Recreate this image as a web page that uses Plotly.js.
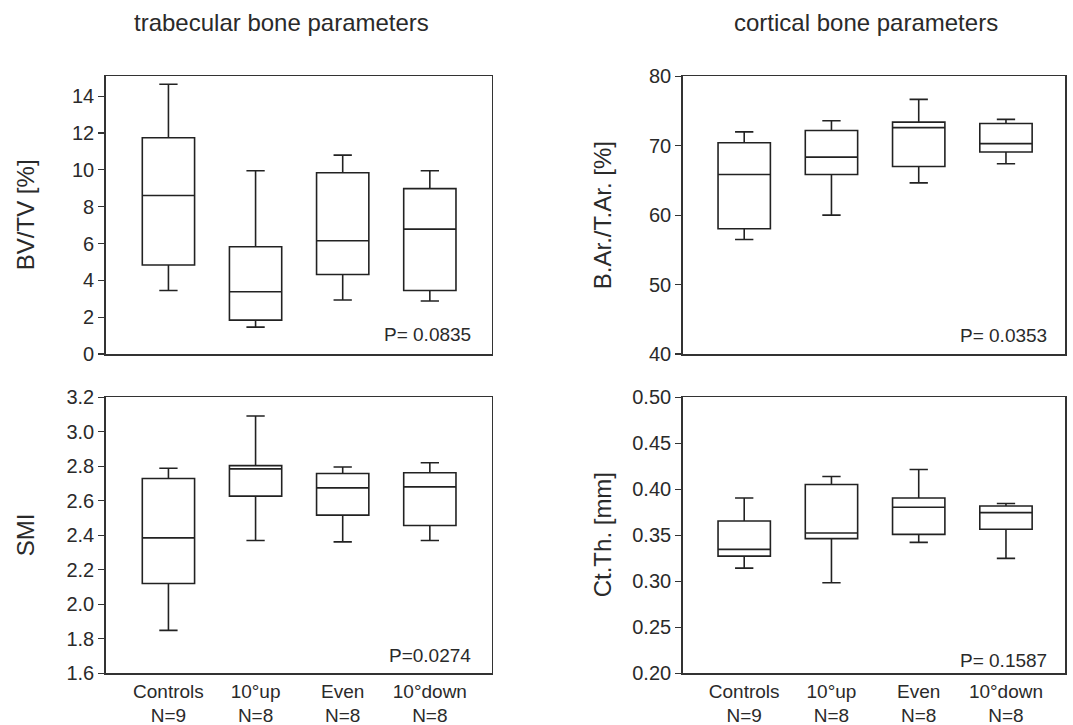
<!DOCTYPE html>
<html>
<head>
<meta charset="utf-8">
<script src="https://cdn.plot.ly/plotly-3.0.1.min.js"></script>
<style>html,body{margin:0;padding:0;background:#fff;}#chart{width:1073px;height:725px;}</style>
</head>
<body>
<div id="chart"></div>
<script>
// ---- data ----
const groups = ['Controls', '10°up', 'Even', '10°down'];
const groupN = ['N=9', 'N=8', 'N=8', 'N=8'];
const positions = [0, 1, 2, 3];

// BV/TV [%]
const bvtvLower  = [3.45, 1.46, 2.93, 2.88];
const bvtvQ1     = [4.83, 1.84, 4.32, 3.45];
const bvtvMedian = [8.61, 3.38, 6.15, 6.78];
const bvtvQ3     = [11.74, 5.82, 9.84, 8.98];
const bvtvUpper  = [14.65, 9.95, 10.8, 9.95];

// B.Ar./T.Ar. [%]
const barLower  = [56.5, 60.0, 64.65, 67.4];
const barQ1     = [58.05, 65.85, 67.0, 69.1];
const barMedian = [65.85, 68.36, 72.6, 70.3];
const barQ3     = [70.43, 72.2, 73.4, 73.2];
const barUpper  = [72.0, 73.6, 76.68, 73.8];

// SMI
const smiLower  = [1.849, 2.370, 2.362, 2.370];
const smiQ1     = [2.121, 2.627, 2.517, 2.457];
const smiMedian = [2.385, 2.785, 2.675, 2.681];
const smiQ3     = [2.729, 2.804, 2.758, 2.763];
const smiUpper  = [2.789, 3.092, 2.796, 2.821];

// Ct.Th. [mm]
const ctLower  = [0.3143, 0.2984, 0.3423, 0.3249];
const ctQ1     = [0.3274, 0.3464, 0.3510, 0.3565];
const ctMedian = [0.3347, 0.3525, 0.3805, 0.3747];
const ctQ3     = [0.3656, 0.4052, 0.3906, 0.3819];
const ctUpper  = [0.3906, 0.4139, 0.4215, 0.3845];

const pValues = ['P= 0.0835', 'P= 0.0353', 'P=0.0274', 'P= 0.1587'];
const panelTitles = ['trabecular bone parameters', 'cortical bone parameters'];
const yTitles = ['BV/TV [%]', 'B.Ar./T.Ar. [%]', 'SMI', 'Ct.Th. [mm]'];

// ---- styling ----
const FONT = 'Liberation Sans, Arial, sans-serif';
const TXT = '#2a2a2a';
const LINE = '#222';

function boxTrace(xa, ya, lo, q1, med, q3, hi) {
  return {
    type: 'box', xaxis: xa, yaxis: ya,
    x: positions, q1: q1, median: med, q3: q3, lowerfence: lo, upperfence: hi,
    width: 0.6, whiskerwidth: 0.35, boxpoints: false,
    line: {color: LINE, width: 1.6}, fillcolor: 'rgba(255,255,255,0)',
    hoverinfo: 'skip', showlegend: false
  };
}

const data = [
  boxTrace('x', 'y', bvtvLower, bvtvQ1, bvtvMedian, bvtvQ3, bvtvUpper),
  boxTrace('x2', 'y2', barLower, barQ1, barMedian, barQ3, barUpper),
  boxTrace('x3', 'y3', smiLower, smiQ1, smiMedian, smiQ3, smiUpper),
  boxTrace('x4', 'y4', ctLower, ctQ1, ctMedian, ctQ3, ctUpper)
];

const W = 1073, H = 725;
const xL = [105.7 / W, 491.7 / W];
const xR = [682.7 / W, 1065.3 / W];
const yT = [1 - 354 / H, 1 - 76.3 / H];
const yB = [1 - 673.3 / H, 1 - 397.3 / H];

const xTickFont = {family: FONT, size: 19, color: TXT};
const yTickFont = {family: FONT, size: 20, color: TXT};
const xTickText = groups.map((g, i) => g + '<br>' + groupN[i]);

function xAxis(domain, anchor, range, showLabels) {
  return {
    domain: domain, anchor: anchor, range: range,
    tickmode: 'array', tickvals: positions, ticktext: xTickText,
    showticklabels: showLabels, ticks: '', tickfont: xTickFont,
    showgrid: false, zeroline: false, showline: true, mirror: true,
    linecolor: '#333', linewidth: 1.5, automargin: false, fixedrange: true
  };
}
function yAxis(domain, anchor, range, dtick, fmt) {
  return {
    domain: domain, anchor: anchor, range: range,
    tick0: range[0], dtick: dtick, tickformat: fmt,
    ticks: 'outside', ticklen: 6, tickwidth: 1.2, tickcolor: '#333',
    tickfont: yTickFont, showgrid: false, zeroline: false,
    showline: true, mirror: true, linecolor: '#333', linewidth: 1.5,
    automargin: false, fixedrange: true
  };
}

const annotations = [];
// panel titles
annotations.push({text: panelTitles[0], xref: 'paper', yref: 'paper', x: 281 / W, y: 1 - 22 / H,
  xanchor: 'center', yanchor: 'middle', showarrow: false, font: {family: FONT, size: 24, color: TXT}});
annotations.push({text: panelTitles[1], xref: 'paper', yref: 'paper', x: 866 / W, y: 1 - 22 / H,
  xanchor: 'center', yanchor: 'middle', showarrow: false, font: {family: FONT, size: 24, color: TXT}});
// y-axis titles
const yTitlePos = [[25, (76.3 + 354) / 2], [602, (76.3 + 354) / 2], [25, (397.3 + 673.3) / 2], [602, (397.3 + 673.3) / 2]];
yTitles.forEach((t, i) => {
  annotations.push({text: t, xref: 'paper', yref: 'paper', x: yTitlePos[i][0] / W, y: 1 - yTitlePos[i][1] / H,
    xanchor: 'center', yanchor: 'middle', textangle: -90, showarrow: false,
    font: {family: FONT, size: 24, color: TXT}});
});
// P values
const pRefs = [['x', 'y'], ['x2', 'y2'], ['x3', 'y3'], ['x4', 'y4']];
const pY = [(354 - 334) / (354 - 76.3), (354 - 335) / (354 - 76.3), (673.3 - 655.7) / (673.3 - 397.3), (673.3 - 660) / (673.3 - 397.3)];
const pX = [(473.3 - 105.7) / (491.7 - 105.7), (1049.3 - 682.7) / (1065.3 - 682.7), (473.3 - 105.7) / (491.7 - 105.7), (1049.3 - 682.7) / (1065.3 - 682.7)];
pValues.forEach((p, i) => {
  annotations.push({text: p, xref: pRefs[i][0] + ' domain', yref: pRefs[i][1] + ' domain',
    x: pX[i], y: pY[i], xanchor: 'right', yanchor: 'middle', showarrow: false,
    font: {family: FONT, size: 19, color: TXT}});
});

const layout = {
  width: W, height: H,
  margin: {l: 0, r: 0, t: 0, b: 0},
  paper_bgcolor: '#fff', plot_bgcolor: '#fff',
  font: {family: FONT, color: TXT},
  showlegend: false,
  xaxis: xAxis(xL, 'y', [-0.72, 3.71], false),
  yaxis: yAxis(yT, 'x', [0, 15.08], 2, 'd'),
  xaxis2: xAxis(xR, 'y2', [-0.705, 3.68], false),
  yaxis2: yAxis(yT, 'x2', [40, 80], 10, 'd'),
  xaxis3: xAxis(xL, 'y3', [-0.72, 3.71], true),
  yaxis3: yAxis(yB, 'x3', [1.6, 3.2], 0.2, '.1f'),
  xaxis4: xAxis(xR, 'y4', [-0.705, 3.68], true),
  yaxis4: yAxis(yB, 'x4', [0.2, 0.5], 0.05, '.2f'),
  annotations: annotations
};

Plotly.newPlot('chart', data, layout, {displayModeBar: false, staticPlot: true});
</script>
</body>
</html>
